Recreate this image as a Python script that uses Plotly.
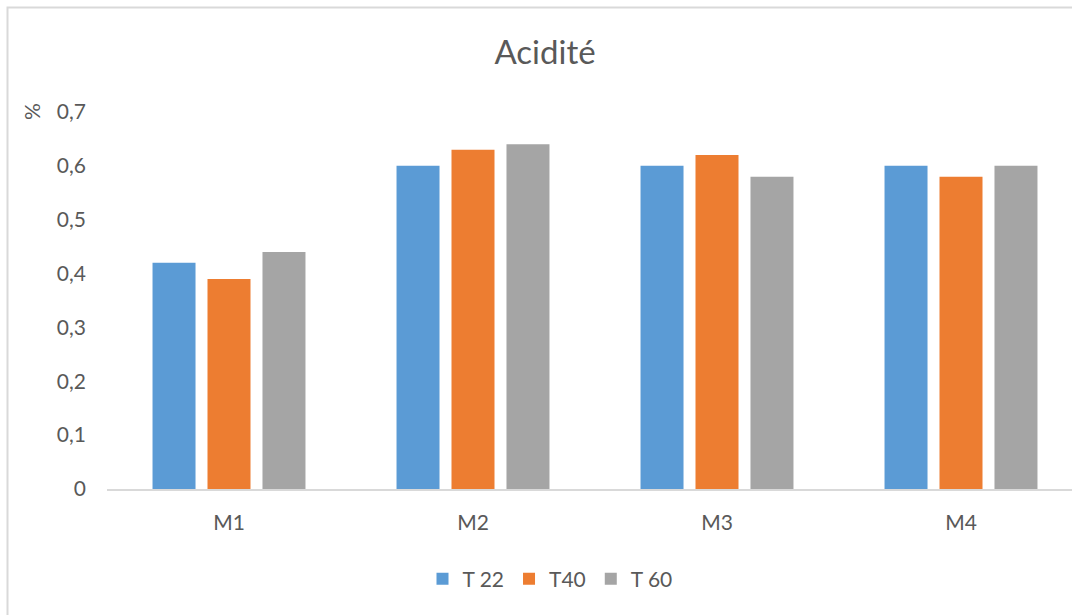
import plotly.graph_objects as go

# Data
categories = ["M1", "M2", "M3", "M4"]
t22 = [0.42, 0.60, 0.60, 0.60]
t40 = [0.39, 0.63, 0.62, 0.58]
t60 = [0.44, 0.64, 0.58, 0.60]
series_names = ["T 22", "T40", "T 60"]
series_colors = ["#5B9BD5", "#ED7D31", "#A5A5A5"]
y_ticks = [0, 0.1, 0.2, 0.3, 0.4, 0.5, 0.6, 0.7]
y_tick_labels = ["0", "0,1", "0,2", "0,3", "0,4", "0,5", "0,6", "0,7"]

W, H = 1072, 615
L, R, T, B = 107, 0, 112, 126
TEXT = "#595959"
FONT = "Lato"

fig = go.Figure()
for name, vals, col in zip(series_names, [t22, t40, t60], series_colors):
    fig.add_trace(go.Bar(x=categories, y=vals, name=name, marker_color=col,
                         marker_line_width=0))

# Plot area geometry (pixels) for frame placement in paper coords
pw = W - L - R
ph = H - T - B

def px_to_paper_x(px):
    return (px - L) / pw

def px_to_paper_y(py):
    return (H - B - py) / ph

fig.update_layout(
    width=W, height=H,
    margin=dict(l=L, r=R, t=T, b=B, pad=0),
    paper_bgcolor="white", plot_bgcolor="white",
    font=dict(family=FONT, color=TEXT, size=21),
    barmode="group", bargap=0.324, bargroupgap=0.218,
    title=dict(text="Acidité", x=545 / W, xref="container", xanchor="center",
               y=1 - 52 / H, yref="container", yanchor="middle",
               font=dict(family=FONT, size=33, color=TEXT)),
    xaxis=dict(range=[-0.5, -0.5 + pw / 244.0], showgrid=False, zeroline=False,
               showline=True, linecolor="#D9D9D9", linewidth=1.5, ticks="",
               ticklabelstandoff=14, tickfont=dict(size=21, color=TEXT)),
    yaxis=dict(range=[0, 0.7], tickvals=y_ticks, ticktext=y_tick_labels,
               showgrid=False, zeroline=False, showline=False, ticks="",
               ticklabelstandoff=20, tickfont=dict(size=21, color=TEXT)),
    legend=dict(orientation="h", xref="container", yref="container",
                x=550 / W, xanchor="center", y=1 - 579 / H, yanchor="middle",
                font=dict(size=21, color=TEXT), itemwidth=30,
                traceorder="normal"),
    showlegend=True,
)

# Y-axis unit label
fig.add_annotation(text="%", xref="paper", yref="paper",
                   x=px_to_paper_x(31), y=px_to_paper_y(112),
                   xanchor="center", yanchor="middle", textangle=-90,
                   showarrow=False, font=dict(size=21, color=TEXT, family=FONT))

# Chart frame
fig.add_shape(type="rect", xref="paper", yref="paper", layer="below",
              x0=px_to_paper_x(7.5), x1=px_to_paper_x(W + 10),
              y0=px_to_paper_y(H + 10), y1=px_to_paper_y(7.5),
              line=dict(color="#D9D9D9", width=2), fillcolor="rgba(0,0,0,0)")

fig.write_html("out.html")
